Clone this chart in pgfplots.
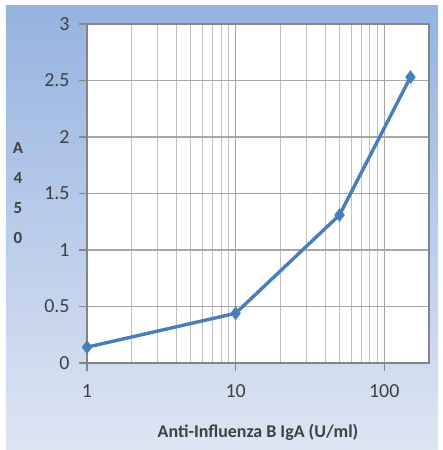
\documentclass[border=0pt]{standalone}
\usepackage{pgfplots}
\pgfplotsset{compat=1.18}
\usepackage{fontspec}
\setmainfont{Carlito}
\definecolor{lineblue}{HTML}{4A7EBB}
\definecolor{bgtop}{HTML}{95B3E0}
\definecolor{bgbot}{HTML}{DDE5F3}
\definecolor{txt}{HTML}{404040}
\begin{document}
\begin{tikzpicture}[x=1bp,y=1bp]
\fill[white] (-87,-87) rectangle (356,363);
\fill[top color=bgtop, bottom color=bgbot] (-81,-86) rectangle (351,357);
\begin{axis}[
  at={(0,0)}, anchor=south west,
  scale only axis, width=342bp, height=339bp,
  xmode=log, xmin=1, xmax=200, ymin=0, ymax=3,
  xtick={1,10,100}, xticklabels={1,10,100},
  ytick={0,0.5,1,1.5,2,2.5,3}, yticklabels={0,0.5,1,1.5,2,2.5,3},
  axis background/.style={fill=white},
  grid=both,
  major grid style={draw=black!35, line width=1.1bp},
  minor grid style={draw=black!25, line width=1.1bp},
  axis line style={draw=black!48, line width=1.1bp},
  tick style={draw=black!48, line width=1.1bp},
  minor tick length=0pt, major tick length=8bp,
  tick align=outside, tick pos=left,
  ticklabel style={font=\fontsize{20}{23}\selectfont, text=txt},
  xticklabel style={yshift=-10bp},
  yticklabel style={xshift=-6bp},
  /pgf/number format/assume math mode=true,
  clip=false,
]
\addplot[lineblue, line width=3.4bp, mark=diamond*, mark size=6.5bp, mark options={fill=lineblue, draw=lineblue, line width=0.5bp}]
coordinates {(1,0.14) (10,0.44) (50,1.31) (150,2.53)};
\end{axis}
\node[font=\bfseries\fontsize{18}{21}\selectfont, text=txt] at (171,-69) {Anti-Influenza B IgA (U/ml)};
\node[font=\bfseries\fontsize{17}{30}\selectfont, text=txt, align=center] at (-69,170) {A\\4\\5\\0};
\end{tikzpicture}
\end{document}
